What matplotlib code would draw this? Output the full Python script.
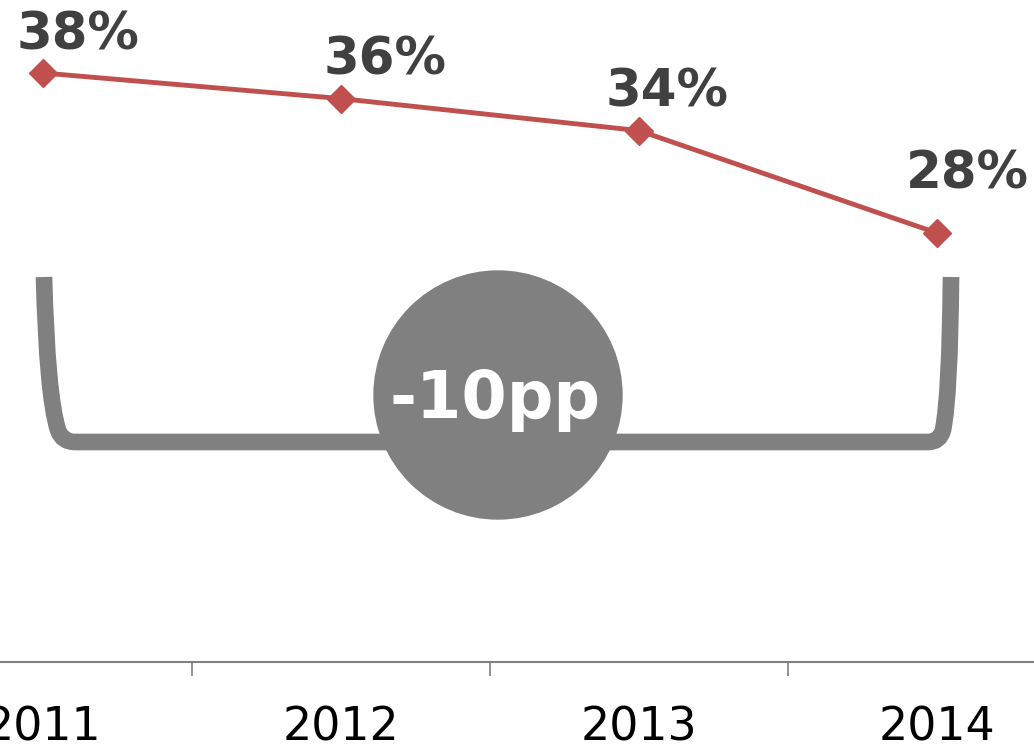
import matplotlib
matplotlib.use("Agg")
from matplotlib import pyplot as plt
from matplotlib.path import Path
from matplotlib.patches import PathPatch, Ellipse

# data
years = ["2011", "2012", "2013", "2014"]
share = [38.0, 36.4, 34.4, 28.0]
labels = ["38%", "36%", "34%", "28%"]
change_text = "-10pp"

RED = "#C0504D"
GREY = "#808080"
DARK = "#404040"

W, H = 1034, 750
fig = plt.figure(figsize=(W / 100, H / 100), dpi=100)
ax = fig.add_axes([0, 88 / H, 1, 662 / H])

x = list(range(len(years)))
ax.plot(x, share, color=RED, lw=3.5, marker="D", ms=14, mec=RED, zorder=3)

# label offsets in points (dx, dy) relative to each marker
offsets = [(25, 17), (32, 17), (20, 17), (22, 32)]
for xi, v, lab, (dx, dy) in zip(x, share, labels, offsets):
    ax.annotate(lab, (xi, v), xytext=(dx, dy), textcoords="offset points",
                ha="center", va="baseline", fontsize=37, fontweight="bold",
                color=DARK, annotation_clip=False)

ax.set_xlim(-43 / 298, (W - 43) / 298)
ax.set_ylim(38 - 589 / 16, 38 + 73 / 16)

for side in ["left", "right", "top"]:
    ax.spines[side].set_visible(False)
ax.spines["bottom"].set_color(GREY)
ax.spines["bottom"].set_linewidth(1.5)
ax.set_yticks([])
ax.set_xticks([0.5, 1.5, 2.5])
ax.set_xticklabels([])
ax.tick_params(axis="x", which="major", length=10, width=1.2, color=GREY)
ax.set_xticks(x, minor=True)
ax.set_xticklabels(years, minor=True)
ax.tick_params(axis="x", which="minor", length=0, pad=31, labelsize=33,
               labelcolor="black")


def px(xp, yp):
    return (xp / W, 1 - yp / H)


# bracket under the line
verts = [px(44, 277), px(47, 395), px(58, 430), px(62, 442), px(75, 442),
         px(928, 442), px(940, 442), px(943, 430), px(950, 395), px(951, 277)]
codes = [Path.MOVETO, Path.CURVE3, Path.CURVE3, Path.CURVE3, Path.CURVE3,
         Path.LINETO, Path.CURVE3, Path.CURVE3, Path.CURVE3, Path.CURVE3]
bracket = PathPatch(Path(verts, codes), fill=False, edgecolor=GREY, lw=12,
                    capstyle="butt", joinstyle="round",
                    transform=fig.transFigure, zorder=1)
fig.add_artist(bracket)

cx, cy = px(498, 395)
circle = Ellipse((cx, cy), 2 * 124 / W, 2 * 124 / H, color=GREY,
                 transform=fig.transFigure, zorder=2)
fig.add_artist(circle)
fig.text(495 / W, 1 - 418 / H, change_text, ha="center", va="baseline",
         fontsize=47, fontweight="bold", color="white", zorder=3)

fig.savefig("out.png", dpi=100)
